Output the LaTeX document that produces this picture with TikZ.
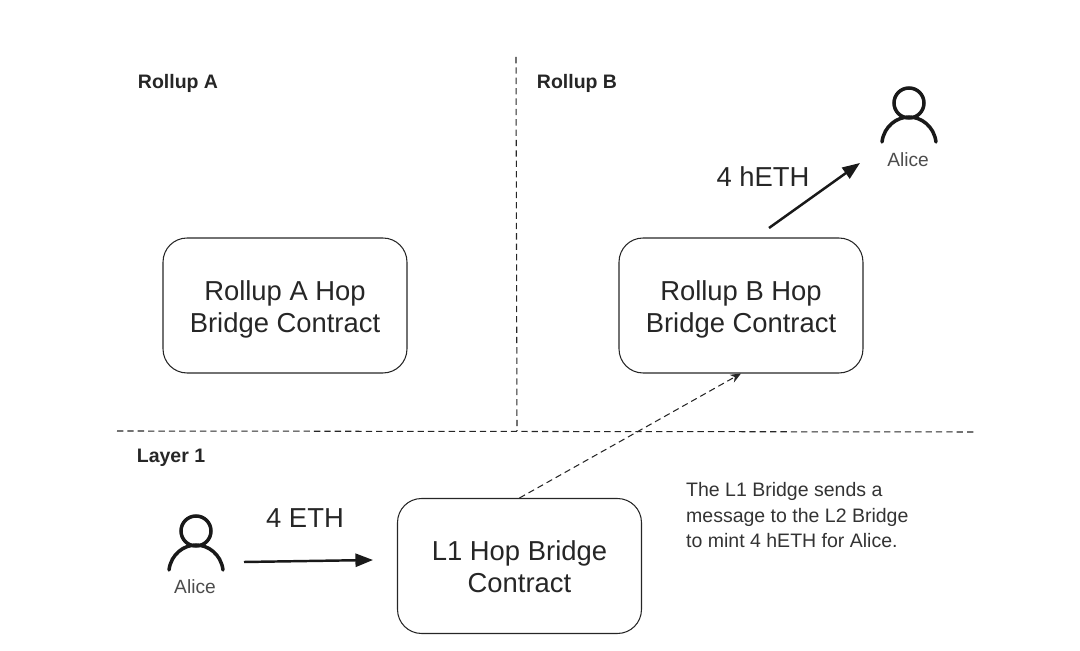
\documentclass[tikz,border=0pt]{standalone}
\usepackage{fontspec}
\setmainfont{Liberation Sans}
\usetikzlibrary{arrows.meta,positioning}

\tikzset{
  contract/.style={draw=black!85, line width=0.6pt, rounded corners=0.48cm, minimum width=4.88cm, minimum height=2.7cm},
  bridgetext/.style={align=center, font=\fontsize{15.6}{18.2}\selectfont, text=black!85},
  region/.style={font=\bfseries\fontsize{11.1}{13}\selectfont, text=black!85},
  caption/.style={font=\fontsize{10.9}{13}\selectfont, text=black!70},
  note/.style={font=\fontsize{11.1}{14.5}\selectfont, text=black!80, align=left},
  amount/.style={font=\fontsize{15.6}{18}\selectfont, text=black!85},
  border/.style={black!85, line width=0.6pt, dash pattern=on 3.6pt off 2.3pt},
  transfer/.style={-{Triangle[length=10pt,width=7.5pt]}, line width=1.4pt, black!90},
  message/.style={-{Stealth[length=6pt,width=5pt]}, black!85, line width=0.6pt, dash pattern=on 3.6pt off 2.3pt},
  person/.pic={
    \draw[line width=2pt, black!90] (0,-39) circle (15);
    \draw[line width=2pt, black!90, line cap=round] (-27,0) .. controls (-25,-16) and (-12,-25) .. (0,-25) .. controls (12,-25) and (25,-16) .. (27,0);
  }
}

\begin{document}
\begin{tikzpicture}[x=0.02cm, y=-0.02cm]
\useasboundingbox (0,0) rectangle (1080,651);

\node[region] (labelA) at (178,83) {Rollup A};
\node[region] (labelB) at (577,83) {Rollup B};
\node[region] (labelL) at (171,458) {Layer 1};

% region borders
\coordinate (vtop) at (516,57);
\coordinate (vbot) at (517,431);
\coordinate (hleft) at (117,431);
\coordinate (hright) at (975,432);
\draw[border] (vtop) -- (vbot);
\draw[border] (hleft) -- (hright);

\node[contract] (hopA) at (285,305.5) {};
\node[contract] (hopB) at (741,305.5) {};
\node[contract] (hopL) at (519.5,566) {};

\node[bridgetext] (textA) at (285,309) {Rollup A Hop\\Bridge Contract};
\node[bridgetext] (textB) at (741,309) {Rollup B Hop\\Bridge Contract};
\node[bridgetext] (textL) at (519.5,567) {L1 Hop Bridge\\Contract};

\pic at (909,142) {person};
\pic at (196,570) {person};
\node[caption] (aliceB) at (908,160) {Alice};
\node[caption] (aliceL) at (195,587) {Alice};

\coordinate (mintstart) at (769,228);
\coordinate (mintend) at (860,163);
\coordinate (depstart) at (244,562);
\coordinate (depend) at (373,560);
\draw[transfer] (mintstart) -- (mintend);
\draw[transfer] (depstart) -- (depend);
\draw[message] (hopL.north) -- (hopB.south);

\node[amount] (hETH) at (763,176.5) {4 hETH};
\node[amount] (ETH) at (305,518.5) {4 ETH};

\node[note, anchor=north west] (info) at (680,476.5) {The L1 Bridge sends a\\message to the L2 Bridge\\to mint 4 hETH for Alice.};
\end{tikzpicture}
\end{document}
